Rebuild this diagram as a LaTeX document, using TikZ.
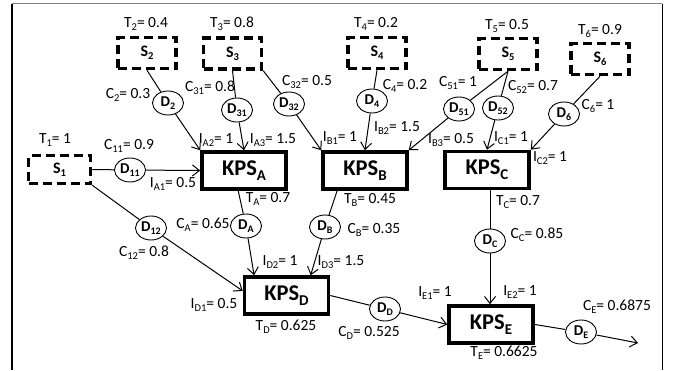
\documentclass[tikz,border=0pt]{standalone}
\usepackage{fontspec}
\setmainfont{Carlito}
\usetikzlibrary{shapes.geometric,arrows.meta,calc}
\newcommand\sbx[1]{\raisebox{-0.2em}{\fontsize{10.5}{10.5}\selectfont #1}}
\newcommand\sbk[1]{\raisebox{-0.22em}{\fontsize{15}{15}\selectfont #1}}
\newcommand\sbd[1]{\raisebox{-0.2em}{\fontsize{10}{10}\selectfont #1}}
\begin{document}
\begin{tikzpicture}[x=1pt,y=-1pt,
  lbl/.style={font=\fontsize{15.5}{16}\selectfont, inner sep=0pt},
  srcbox/.style={draw, line width=3.5pt, dash pattern=on 9pt off 5pt, minimum width=58pt, minimum height=31pt, inner sep=0pt, font=\fontsize{16}{16}\selectfont\bfseries},
  kps/.style={draw, line width=3.5pt, minimum width=84pt, minimum height=37pt, inner sep=0pt, font=\fontsize{22.5}{22.5}\selectfont\bfseries},
  dnode/.style={draw, ellipse, line width=0.9pt, minimum width=31pt, minimum height=24pt, inner sep=0pt, font=\fontsize{15}{15}\selectfont\bfseries},
  conn/.style={line width=1pt},
  arr/.style={conn, -{Straight Barb[length=7pt,width=11pt,line width=1pt]}}
]
\useasboundingbox (0,0) rectangle (677,370);
% frame
\coordinate (f1) at (12,3.5);
\coordinate (f2) at (662,3.5);
\coordinate (f3) at (12,370);
\coordinate (f4) at (662,370);
\draw[line width=1.5pt, gray] (f1) -- (f2);
\draw[line width=1.5pt] (f1) -- (f3);
\draw[line width=1pt] (f2) -- (f4);

% sources
\node[srcbox, minimum width=62pt, minimum height=28pt] (S1) at (59.5,169.5) {S\sbx{1}};
\node[srcbox] (S2) at (147,53) {S\sbx{2}};
\node[srcbox] (S3) at (232.5,53.5) {S\sbx{3}};
\node[srcbox] (S4) at (377,53) {S\sbx{4}};
\node[srcbox] (S5) at (508,54) {S\sbx{5}};
\node[srcbox] (S6) at (600,59) {S\sbx{6}};

% KPS
\node[kps] (KPSA) at (244,170.5) {KPS\sbk{A}};
\node[kps] (KPSB) at (365,170.5) {KPS\sbk{B}};
\node[kps] (KPSC) at (487,170) {KPS\sbk{C}};
\node[kps] (KPSD) at (286.5,295.5) {KPS\sbk{D}};
\node[kps] (KPSE) at (491,324.5) {KPS\sbk{E}};

% delay nodes
\node[dnode] (D11) at (130,170) {D\sbd{11}};
\node[dnode] (D12) at (151,228) {D\sbd{12}};
\node[dnode] (D2) at (168,103) {D\sbd{2}};
\node[dnode] (D31) at (237,110) {D\sbd{31}};
\node[dnode] (D32) at (289,104) {D\sbd{32}};
\node[dnode] (D4) at (372,101) {D\sbd{4}};
\node[dnode] (D51) at (459,109) {D\sbd{51}};
\node[dnode] (D52) at (498,108) {D\sbd{52}};
\node[dnode] (D6) at (564,114) {D\sbd{6}};
\node[dnode] (DA) at (246,226) {D\sbd{A}};
\node[dnode] (DB) at (325,227) {D\sbd{B}};
\node[dnode] (DC) at (490,241) {D\sbd{C}};
\node[dnode] (DD) at (385,309) {D\sbd{D}};
\node[dnode] (DE) at (581,332) {D\sbd{E}};
\coordinate (out) at (638,343);

% connectors
\draw[conn] (S1.east) -- (D11);
\draw[arr] (D11) -- (KPSA.west);
\draw[conn] (S1.south east) -- (D12);
\draw[arr] (D12) -- (KPSD.174);
\draw[conn] (S2.south) -- (D2);
\draw[arr] (D2) -- (KPSA.north west);
\draw[conn] (S3.south) -- (D31);
\draw[arr] (D31) -- (KPSA.north);
\draw[conn] (S3.south east) -- (D32);
\draw[arr] (D32) -- (KPSB.north west);
\draw[conn] (S4.south) -- (D4);
\draw[arr] (D4) -- (KPSB.north);
\draw[conn] (S5.south) -- (D51);
\draw[arr] (D51) -- (KPSB.north east);
\draw[conn] (S5.south) -- (D52);
\draw[arr] (D52) -- (KPSC.north);
\draw[conn] (S6.south) -- (D6);
\draw[arr] (D6) -- (KPSC.north east);
\draw[conn] (KPSA.254) -- (DA);
\draw[arr] (DA) -- (KPSD.148);
\draw[conn] (KPSB.216) -- (DB);
\draw[arr] (DB) -- (KPSD.40);
\draw[conn] (KPSC.south -| DC) -- (DC);
\draw[arr] (DC) -- (KPSE.north -| DC);
\draw[conn] (KPSD.east) -- (DD);
\draw[arr] (DD) -- (KPSE.west);
\draw[conn] (KPSE.east) -- (DE);
\draw[arr] (DE) -- (out);

% labels
\node[lbl] (tT1) at (55,140) {T\sbx{1}= 1};
\node[lbl] (tT2) at (146,24) {T\sbx{2}= 0.4};
\node[lbl] (tT3) at (232,24) {T\sbx{3}= 0.8};
\node[lbl] (tT4) at (376,24) {T\sbx{4}= 0.2};
\node[lbl] (tT5) at (507,26) {T\sbx{5}= 0.5};
\node[lbl] (tT6) at (600,31) {T\sbx{6}= 0.9};
\node[lbl] (tC11) at (129,146) {C\sbx{11}= 0.9};
\node[lbl] (tC2) at (128,95) {C\sbx{2}= 0.3};
\node[lbl] (tC31) at (210,88) {C\sbx{31}= 0.8};
\node[lbl] (tC32) at (307,82) {C\sbx{32}= 0.5};
\node[lbl] (tC4) at (405,86) {C\sbx{4}= 0.2};
\node[lbl] (tC51) at (458,83) {C\sbx{51}= 1};
\node[lbl] (tC52) at (533,87) {C\sbx{52}= 0.7};
\node[lbl] (tC6) at (598,106) {C\sbx{6}= 1};
\node[lbl] (tIA1) at (173,184) {I\sbx{A1}= 0.5};
\node[lbl] (tIA2) at (216,140) {I\sbx{A2}= 1};
\node[lbl] (tIA3) at (273,140) {I\sbx{A3}= 1.5};
\node[lbl] (tIB1) at (340,138) {I\sbx{B1}= 1};
\node[lbl] (tIB2) at (397,128) {I\sbx{B2}= 1.5};
\node[lbl] (tIB3) at (451,140) {I\sbx{B3}= 0.5};
\node[lbl] (tIC1) at (511,138) {I\sbx{C1}= 1};
\node[lbl] (tIC2) at (550,158) {I\sbx{C2}= 1};
\node[lbl] (tTA) at (268,199) {T\sbx{A}= 0.7};
\node[lbl] (tCA) at (203,225) {C\sbx{A}= 0.65};
\node[lbl] (tTB) at (370,200) {T\sbx{B}= 0.45};
\node[lbl] (tCB) at (374,230) {C\sbx{B}= 0.35};
\node[lbl] (tTC) at (518,202) {T\sbx{C}= 0.7};
\node[lbl] (tCC) at (537,235) {C\sbx{C}= 0.85};
\node[lbl] (tC12) at (144,253) {C\sbx{12}= 0.8};
\node[lbl] (tID1) at (214,305) {I\sbx{D1}= 0.5};
\node[lbl] (tID2) at (280,262) {I\sbx{D2}= 1};
\node[lbl] (tID3) at (341,262) {I\sbx{D3}= 1.5};
\node[lbl] (tTD) at (286,327) {T\sbx{D}= 0.625};
\node[lbl] (tCD) at (369,333) {C\sbx{D}= 0.525};
\node[lbl] (tIE1) at (435,293) {I\sbx{E1}= 1};
\node[lbl] (tIE2) at (520,292) {I\sbx{E2}= 1};
\node[lbl] (tCE) at (617,307) {C\sbx{E}= 0.6875};
\node[lbl] (tTE) at (504,353) {T\sbx{E}= 0.6625};
\end{tikzpicture}
\end{document}
